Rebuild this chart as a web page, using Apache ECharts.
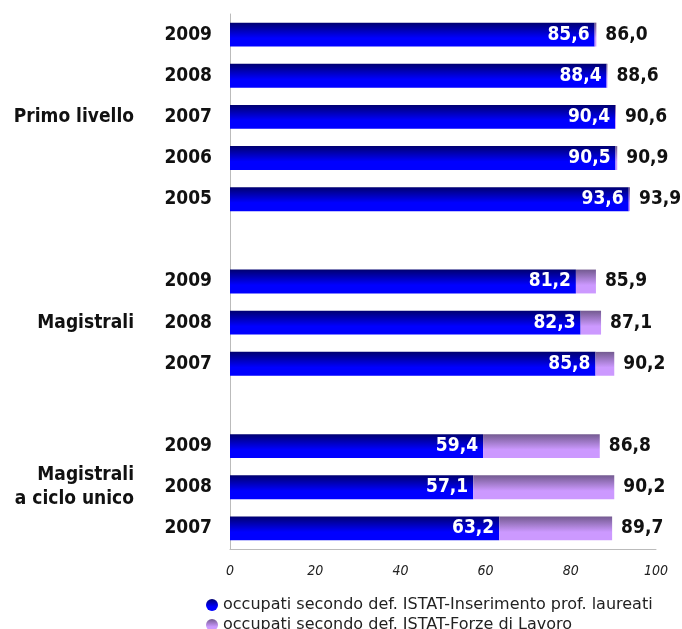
<!DOCTYPE html>
<html>
<head>
<meta charset="utf-8">
<script src="https://cdn.jsdelivr.net/npm/echarts@6/dist/echarts.min.js"></script>
<style>html,body{margin:0;padding:0;background:#fff}#c{width:682px;height:629px}</style>
</head>
<body>
<div id="c"></div>
<script>
var years = ['2009','2008','2007','2006','2005','','2009','2008','2007','','2009','2008','2007'];
var groups = ['','','Primo livello','','','','','Magistrali','','','','Magistrali\na ciclo unico',''];
var inserimento = [85.6, 88.4, 90.4, 90.5, 93.6, null, 81.2, 82.3, 85.8, null, 59.4, 57.1, 63.2];
var forzeLavoro = [86.0, 88.6, 90.6, 90.9, 93.9, null, 85.9, 87.1, 90.2, null, 86.8, 90.2, 89.7];
var seriesNames = ['occupati secondo def. ISTAT-Inserimento prof. laureati', 'occupati secondo def. ISTAT-Forze di Lavoro'];
var xTicks = [0, 20, 40, 60, 80, 100];

var diff = forzeLavoro.map(function (v, i) {
  return v == null ? null : Math.round((v - inserimento[i]) * 10) / 10;
});
function fmt(v) { return v.toFixed(1).replace('.', ','); }

var FONT = 'DejaVu Sans Condensed';
var chart = echarts.init(document.getElementById('c'));
chart.setOption({
  animation: false,
  textStyle: { fontFamily: FONT },
  grid: { left: 230, right: 26, top: 14, bottom: 80, containLabel: false },
  legend: {
    orient: 'vertical', left: 201, top: 592, height: 120, itemGap: 4,
    icon: 'circle', itemWidth: 12, itemHeight: 12,
    textStyle: { fontFamily: 'DejaVu Sans', fontSize: 16, color: '#222' },
    data: seriesNames
  },
  xAxis: {
    type: 'value', min: xTicks[0], max: xTicks[xTicks.length - 1], interval: 20,
    axisLine: { show: true, lineStyle: { color: '#bbbbbb', width: 1 } },
    axisTick: { show: false },
    splitLine: { show: false },
    axisLabel: { fontStyle: 'italic', fontSize: 14, color: '#222', margin: 15, fontFamily: FONT }
  },
  yAxis: [{
    type: 'category', data: years, inverse: true,
    axisLine: { show: true, lineStyle: { color: '#bbbbbb', width: 1 } },
    axisTick: { show: false },
    axisLabel: { fontWeight: 'bold', fontSize: 19, color: '#111', margin: 18, fontFamily: FONT }
  }, {
    type: 'category', data: groups, inverse: true, position: 'left', offset: 88,
    axisLine: { show: false }, axisTick: { show: false },
    axisLabel: { fontWeight: 'bold', fontSize: 19, color: '#111', margin: 8, lineHeight: 24, fontFamily: FONT, interval: 0 }
  }],
  series: [{
    name: seriesNames[0], type: 'bar', stack: 'a', data: inserimento,
    barCategoryGap: '42%',
    itemStyle: {
      color: new echarts.graphic.LinearGradient(0, 0, 0, 1, [
        { offset: 0, color: '#000070' }, { offset: 0.65, color: '#0000ff' }, { offset: 1, color: '#0000ff' }
      ])
    },
    label: {
      show: true, position: 'insideRight', distance: 5, color: '#fff',
      fontWeight: 'bold', fontSize: 19, fontFamily: FONT,
      formatter: function (p) { return fmt(p.value); }
    }
  }, {
    name: seriesNames[1], type: 'bar', stack: 'a', data: diff,
    itemStyle: {
      color: new echarts.graphic.LinearGradient(0, 0, 0, 1, [
        { offset: 0, color: '#735a90' }, { offset: 0.65, color: '#cc99ff' }, { offset: 1, color: '#cc99ff' }
      ])
    },
    label: {
      show: true, position: 'right', distance: 9, color: '#111',
      fontWeight: 'bold', fontSize: 19, fontFamily: FONT,
      formatter: function (p) { return fmt(forzeLavoro[p.dataIndex]); }
    }
  }]
});
</script>
</body>
</html>
